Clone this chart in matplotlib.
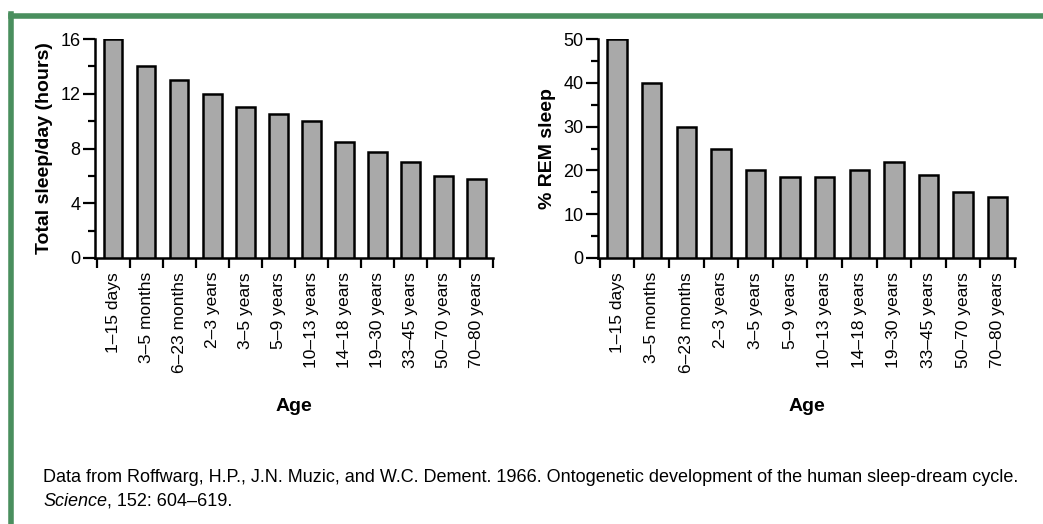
import numpy as np
import matplotlib.pyplot as plt
from matplotlib.lines import Line2D
from matplotlib.ticker import MultipleLocator

plt.rcParams['font.family'] = ['Liberation Sans', 'DejaVu Sans']

ages = ['1–15 days', '3–5 months', '6–23 months', '2–3 years', '3–5 years', '5–9 years',
        '10–13 years', '14–18 years', '19–30 years', '33–45 years', '50–70 years', '70–80 years']
total_sleep = [16, 14, 13, 12, 11, 10.5, 10, 8.5, 7.75, 7, 6, 5.75]
rem_pct = [50, 40, 30, 25, 20, 18.5, 18.5, 20, 22, 19, 15, 14]

footnote1 = 'Data from Roffwarg, H.P., J.N. Muzic, and W.C. Dement. 1966. Ontogenetic development of the human sleep-dream cycle.'
footnote2_it = 'Science'
footnote2 = ', 152: 604–619.'

W, H = 1043, 524
fig = plt.figure(figsize=(W / 100, H / 100), dpi=100)

def px_axes(x0, x1, ytop, ybot):
  return fig.add_axes([x0 / W, 1 - ybot / H, (x1 - x0) / W, (ybot - ytop) / H])

def bar_panel(ax, vals, ymax, major, ylabel):
  x = np.arange(len(vals))
  ax.bar(x, vals, width=0.56, color='#a9a9a9', edgecolor='black', linewidth=1.8, zorder=3)
  ax.set_xlim(-0.55, len(vals) - 0.5)
  ax.set_ylim(0, ymax)
  for s in ['top', 'right']:
    ax.spines[s].set_visible(False)
  for s in ['left', 'bottom']:
    ax.spines[s].set_linewidth(1.8)
  ax.yaxis.set_major_locator(MultipleLocator(major))
  ax.yaxis.set_minor_locator(MultipleLocator(major / 2))
  ax.tick_params(axis='y', which='major', length=8.5, width=1.6, labelsize=13, pad=2)
  ax.tick_params(axis='y', which='minor', length=5, width=1.6)
  # ticks on category boundaries, labels under bars
  ax.set_xticks(np.arange(len(vals) + 1) - 0.5)
  ax.set_xticklabels([])
  ax.set_xticks(x, minor=True)
  ax.set_xticklabels(ages, minor=True, rotation=90, fontsize=12.5, va='top')
  ax.tick_params(axis='x', which='major', length=7.5, width=1.6)
  ax.tick_params(axis='x', which='minor', length=0, pad=10)
  ax.set_xlabel('Age', fontsize=14, fontweight='bold', labelpad=18)
  ax.set_ylabel(ylabel, fontsize=14, fontweight='bold', labelpad=5)

ax1 = px_axes(95, 493, 39, 258)
bar_panel(ax1, total_sleep, 16, 4, 'Total sleep/day (hours)')

ax2 = px_axes(598, 1015, 39, 258)
bar_panel(ax2, rem_pct, 50, 10, '% REM sleep')

fs = 13
fig.text(43 / W, 1 - 478 / H, footnote1, fontsize=fs, va='center', ha='left')
t = fig.text(43 / W, 1 - 501 / H, footnote2_it, fontsize=fs, va='center', ha='left', style='italic')
fig.canvas.draw()
bb = t.get_window_extent()
fig.text(bb.x1 / W, 1 - 501 / H, footnote2, fontsize=fs, va='center', ha='left')

# green frame
green = '#4a8f5e'
fig.add_artist(Line2D([10.5 / W, 1.0], [1 - 15.5 / H, 1 - 15.5 / H], color=green, lw=4, transform=fig.transFigure))
fig.add_artist(Line2D([10.5 / W, 10.5 / W], [1 - 13.5 / H, 0], color=green, lw=4, transform=fig.transFigure))

fig.savefig('out.png', dpi=100)
